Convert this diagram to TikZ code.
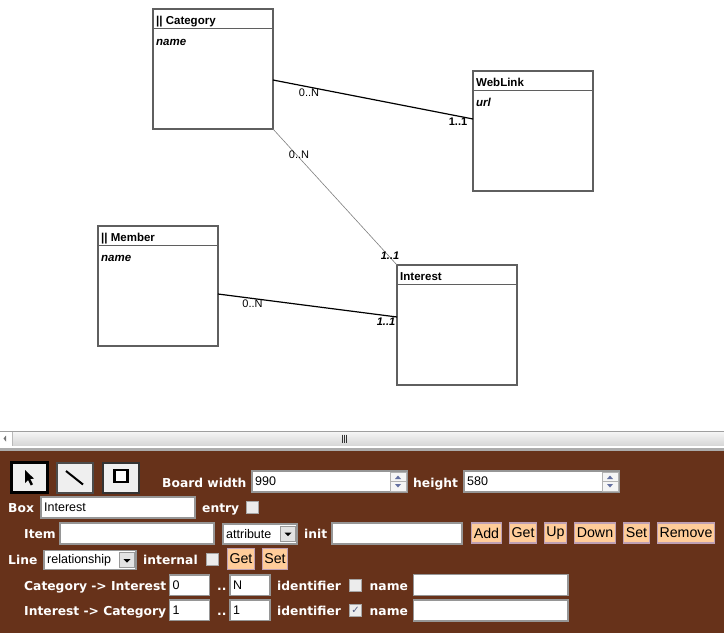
\documentclass[tikz,border=0pt]{standalone}
\usepackage{fontspec}
\setmainfont{Liberation Sans}
\newfontfamily\uifont{DejaVu Sans}
\usetikzlibrary{calc}

\definecolor{panelbrown}{RGB}{103,50,26}
\definecolor{btnfill}{RGB}{255,204,153}
\definecolor{btnedge}{RGB}{190,160,180}
\definecolor{fieldedge}{RGB}{150,150,150}
\definecolor{boxedge}{RGB}{95,95,95}
\definecolor{toolfill}{RGB}{239,239,239}
\definecolor{spinblue}{RGB}{100,112,160}
\definecolor{checkfill}{RGB}{236,236,236}

\tikzset{
  umlbox/.style={draw=boxedge, line width=1.4pt, fill=white, anchor=north west,
    minimum width=120, minimum height=120, inner sep=0, outer sep=0},
  boxtitle/.style={anchor=base west, inner sep=0, font=\fontsize{11.5}{13}\selectfont\bfseries},
  boxattr/.style={anchor=base west, inner sep=0, font=\fontsize{11.5}{13}\selectfont\bfseries\itshape},
  relline/.style={draw=black, line width=1.2pt},
  thinrel/.style={draw=gray, line width=0.6pt},
  mult/.style={inner sep=0, font=\fontsize{11}{12}\selectfont},
  multone/.style={inner sep=0, font=\fontsize{11}{12}\selectfont\bfseries},
  multonei/.style={inner sep=0, font=\fontsize{11}{12}\selectfont\bfseries\itshape},
  lbl/.style={anchor=base west, inner sep=0, text=white, font=\uifont\fontsize{12.3}{14}\selectfont\bfseries},
  field/.style={draw=fieldedge, line width=1.2pt, fill=white, anchor=north west, inner sep=0, outer sep=0},
  ftext/.style={anchor=west, inner sep=0, font=\fontsize{12.5}{14}\selectfont},
  btn/.style={draw=btnedge, line width=1.3pt, fill=btnfill, anchor=north west, inner sep=0, outer sep=0,
    minimum height=20, font=\fontsize{14.2}{15}\selectfont},
  toolbtn/.style={fill=toolfill, draw=black!70, line width=2pt, anchor=north west, inner sep=0, outer sep=0,
    minimum width=36, minimum height=30},
  chk/.style={draw=gray!70, line width=0.8pt, fill=checkfill, anchor=north west, inner sep=0, outer sep=0,
    minimum width=12, minimum height=12},
  combo/.style={draw=fieldedge, line width=1.2pt, fill=white, anchor=north west, inner sep=0, outer sep=0},
  combobtn/.style={draw=gray!80, line width=0.8pt, fill=gray!22, anchor=north east, inner sep=0, outer sep=0,
    minimum width=15, minimum height=15},
  spin/.style={draw=gray!60, line width=0.6pt, fill=gray!8, anchor=north east, inner sep=0, outer sep=0,
    minimum width=16, minimum height=19}
}

% text field: name, left, top, width, height
\newcommand\uifield[5]{\node[field, minimum width=#4, minimum height=#5] (#1) at (#2,#3) {};}
% check box: name, left, top
\newcommand\uicheck[3]{\node[chk] (#1) at (#2,#3) {};}
% spinner arrows inside a field
\newcommand\uispin[1]{%
  \node[spin] (#1-spin) at ([xshift=-1,yshift=-1]#1.north east) {};
  \draw[gray!60, line width=0.5pt] (#1-spin.west) -- (#1-spin.east);
  \fill[spinblue] ($(#1-spin.center)+(-3,-2.5)$) -- ($(#1-spin.center)+(3,-2.5)$) -- ($(#1-spin.center)+(0,-6)$) -- cycle;
  \fill[spinblue] ($(#1-spin.center)+(-3,2.5)$) -- ($(#1-spin.center)+(3,2.5)$) -- ($(#1-spin.center)+(0,6)$) -- cycle;}
% combo box: name, left, top, width, height, text
\newcommand\uicombo[6]{%
  \node[combo, minimum width=#4, minimum height=#5] (#1) at (#2,#3) {};
  \node[ftext, font=\fontsize{12.5}{14}\selectfont] (#1-text) at ([xshift=3]#1.west) {#6};
  \node[combobtn] (#1-btn) at ([xshift=-1.5,yshift=-2]#1.north east) {};
  \fill[black] ($(#1-btn.center)+(-3.5,-1)$) -- ($(#1-btn.center)+(3.5,-1)$) -- ($(#1-btn.center)+(0,2.5)$) -- cycle;}

\begin{document}
\begin{tikzpicture}[x=1pt, y=-1pt]
\useasboundingbox (0,0) rectangle (724,633);
\fill[white] (0,0) rectangle (724,633);

% ---------- class boxes ----------
\node[umlbox] (cat) at (153,9) {};
\node[umlbox] (web) at (473,71) {};
\node[umlbox] (mem) at (98,226) {};
\node[umlbox] (int) at (397,265) {};

\foreach \b in {cat,web,mem,int}
  \draw[boxedge, line width=1.4pt] ($(\b.north west)+(0,19.5)$) -- ($(\b.north east)+(0,19.5)$);

\node[boxtitle] (cat-title) at ($(cat.north west)+(3,15.5)$) {|| Category};
\node[boxattr]  (cat-attr)  at ($(cat.north west)+(3,36)$) {name};
\node[boxtitle] (web-title) at ($(web.north west)+(3,15.5)$) {WebLink};
\node[boxattr]  (web-attr)  at ($(web.north west)+(3,35.5)$) {url};
\node[boxtitle] (mem-title) at ($(mem.north west)+(3,15.5)$) {|| Member};
\node[boxattr]  (mem-attr)  at ($(mem.north west)+(3,35.5)$) {name};
\node[boxtitle] (int-title) at ($(int.north west)+(3,15.5)$) {Interest};

% ---------- relationships ----------
\coordinate (cat-r) at ($(cat.north east)+(0,71)$);
\coordinate (web-l) at ($(web.north west)+(0,48)$);
\coordinate (mem-r) at ($(mem.north east)+(0,68)$);
\coordinate (int-l) at ($(int.north west)+(0,52)$);

\draw[relline] (cat-r) -- (web-l);
\draw[thinrel] (cat.south east) -- (int.north west);
\draw[relline] (mem-r) -- (int-l);

\node[mult]     (m1a) at (309,93) {0..N};
\node[multone]  (m1b) at (458,122) {1..1};
\node[mult]     (m2a) at (299,155) {0..N};
\node[multonei] (m2b) at (390,255.5) {1..1};
\node[mult]     (m3a) at (252.5,304) {0..N};
\node[multonei] (m3b) at (386,322) {1..1};

% ---------- scroll bar ----------
\draw[gray!75, line width=1pt] (0,431) -- (724,431);
\shade[top color=gray!8, bottom color=gray!32] (12,432) rectangle (724,445.5);
\draw[gray!55, line width=0.6pt] (12,432) -- (12,445.5);
\fill[gray!90!black] (3.5,438.5) -- (6,435.5) -- (6,441.5) -- cycle;
\foreach \gx in {342,344.2,346.4}
  \draw[gray!40!black, line width=0.8pt] (\gx,434.5) -- (\gx,442.5);
\fill[gray!65] (0,447.5) rectangle (724,450.5);

% ---------- edit panel ----------
\fill[panelbrown] (0,450.5) rectangle (724,633);

% tool buttons
\node[toolbtn, draw=black, line width=2.6pt] (tool-sel) at (11.5,462.5) {};
\node[toolbtn] (tool-line) at (56.5,462.5) {};
\node[toolbtn, draw=black!80] (tool-box) at (102.5,462.5) {};
\fill[black] (25,470) -- (25,483) -- (28,480) -- (30.8,485.5) -- (33,484.3) -- (30.3,479) -- (34,478.6) -- cycle;
\draw[black, line width=2pt] (66,471) -- (83,484.5);
\draw[black, line width=2.4pt, fill=white] (114.5,470) rectangle (127.5,482);

% board size
\node[lbl] (lbl-bw) at (162,487) {Board width};
\uifield{f-bw}{252}{471}{155}{21}
\node[ftext] (t-bw) at ([xshift=3]f-bw.west) {990};
\uispin{f-bw}
\node[lbl] (lbl-h) at (413,487) {height};
\uifield{f-h}{464}{471}{155}{21}
\node[ftext] (t-h) at ([xshift=3]f-h.west) {580};
\uispin{f-h}

% box row
\node[lbl] (lbl-box) at (8,512.5) {Box};
\uifield{f-box}{41}{497}{154}{21}
\node[ftext] (t-box) at ([xshift=3]f-box.west) {Interest};
\node[lbl] (lbl-entry) at (202,512.5) {entry};
\uicheck{c-entry}{246.5}{501}

% item row
\node[lbl] (lbl-item) at (24,538.5) {Item};
\uifield{f-item}{60}{523}{154}{21}
\uicombo{cb-kind}{223}{524}{74}{20}{attribute}
\node[lbl] (lbl-init) at (304,538.5) {init};
\uifield{f-init}{332}{523}{130}{21}
\node[btn, minimum width=30] (b-add) at (471.5,523) {Add};
\node[btn, minimum width=27] (b-get) at (509.5,523) {Get};
\node[btn, minimum width=22] (b-up) at (544.5,523) {Up};
\node[btn, minimum width=41] (b-down) at (574.5,523) {Down};
\node[btn, minimum width=26] (b-set) at (623.5,523) {Set};
\node[btn, minimum width=57] (b-remove) at (657.5,523) {Remove};

% line row
\node[lbl] (lbl-line) at (8,564.5) {Line};
\uicombo{cb-line}{44}{550.5}{92}{19}{relationship}
\node[lbl] (lbl-internal) at (143,564.5) {internal};
\uicheck{c-internal}{206.5}{553.5}
\node[btn, minimum width=27, minimum height=21] (b-lget) at (227.5,548.5) {Get};
\node[btn, minimum width=25, minimum height=21] (b-lset) at (262.5,548.5) {Set};

% first direction
\node[lbl] (lbl-dir1) at (24,590) {Category -> Interest};
\uifield{f-min1}{169.5}{575}{40}{20.5}
\node[ftext] (t-min1) at ([xshift=3]f-min1.west) {0};
\node[lbl] (dots1) at (217,590) {..};
\uifield{f-max1}{230}{575}{40}{20.5}
\node[ftext] (t-max1) at ([xshift=3]f-max1.west) {N};
\node[lbl] (lbl-id1) at (277,590) {identifier};
\uicheck{c-id1}{349.5}{579}
\node[lbl] (lbl-name1) at (369.5,590) {name};
\uifield{f-name1}{413.5}{574.5}{154.5}{21}

% second direction
\node[lbl] (lbl-dir2) at (24,615) {Interest -> Category};
\uifield{f-min2}{169.5}{600}{40}{20.5}
\node[ftext] (t-min2) at ([xshift=3]f-min2.west) {1};
\node[lbl] (dots2) at (217,615) {..};
\uifield{f-max2}{230}{600}{40}{20.5}
\node[ftext] (t-max2) at ([xshift=3]f-max2.west) {1};
\node[lbl] (lbl-id2) at (277,615) {identifier};
\uicheck{c-id2}{349.5}{604.5}
\node[inner sep=0, text=spinblue!80!black, font=\uifont\fontsize{10}{10}\selectfont] (c-id2-mark) at (c-id2.center) {✓};
\node[lbl] (lbl-name2) at (369.5,615) {name};
\uifield{f-name2}{413.5}{600}{154.5}{21}
\end{tikzpicture}
\end{document}
